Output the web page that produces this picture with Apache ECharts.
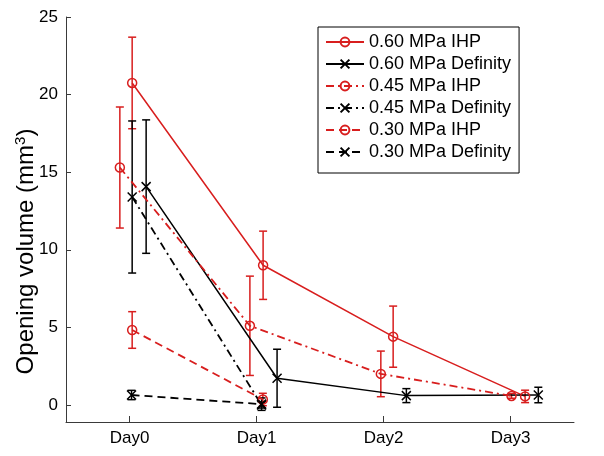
<!DOCTYPE html>
<html><head><meta charset="utf-8">
<script src="https://cdn.jsdelivr.net/npm/echarts@6/dist/echarts.min.js"></script>
<style>html,body{margin:0;padding:0;background:#fff}#c{width:604px;height:456px}</style>
</head><body><div id="c"></div>
<script>
// tick labels
const dayLabels = ['Day0', 'Day1', 'Day2', 'Day3'];
const dayTicks = [0, 1, 2, 3];
const yTicks = [0, 5, 10, 15, 20, 25];
const seriesNames = ['0.60 MPa IHP', '0.60 MPa Definity', '0.45 MPa IHP', '0.45 MPa Definity', '0.30 MPa IHP', '0.30 MPa Definity'];

// x positions (day index with small jitter as in the figure), means, error half-widths
const ihp060X = [0.021, 1.052, 2.076, 3.115];
const ihp060Y = [20.75, 9.0, 4.4, 0.55];
const ihp060E = [2.95, 2.2, 1.97, 0.4];

const def060X = [0.131, 1.162, 2.18, 3.219];
const def060Y = [14.07, 1.72, 0.6, 0.64];
const def060E = [4.3, 1.87, 0.45, 0.5];

const ihp045X = [-0.076, 0.948, 1.979, 3.008];
const ihp045Y = [15.3, 5.1, 2.0, 0.58];
const ihp045E = [3.9, 3.2, 1.47, 0.15];

const def045X = [0.021, 1.04];
const def045Y = [13.4, 0.0];
const def045E = [4.9, 0.2];

const ihp030X = [0.021, 1.05];
const ihp030Y = [4.83, 0.35];
const ihp030E = [1.18, 0.4];

const def030X = [0.016, 1.04];
const def030Y = [0.64, 0.05];
const def030E = [0.3, 0.4];

const RED = '#d81e1e';
const BLACK = '#000000';
const FONT = 'Liberation Sans, Arial, sans-serif';
const CROSS = 'path://M0,0L10,10M0,10L10,0';

const defs = [
  {name: seriesNames[0], xs: ihp060X, ys: ihp060Y, es: ihp060E, color: RED, dash: 'solid', sym: 'circle'},
  {name: seriesNames[1], xs: def060X, ys: def060Y, es: def060E, color: BLACK, dash: 'solid', sym: CROSS},
  {name: seriesNames[2], xs: ihp045X, ys: ihp045Y, es: ihp045E, color: RED, dash: [8, 4, 2, 4], sym: 'circle'},
  {name: seriesNames[3], xs: def045X, ys: def045Y, es: def045E, color: BLACK, dash: [8, 4, 2, 4], sym: CROSS},
  {name: seriesNames[4], xs: ihp030X, ys: ihp030Y, es: ihp030E, color: RED, dash: [8, 5], sym: 'circle'},
  {name: seriesNames[5], xs: def030X, ys: def030Y, es: def030E, color: BLACK, dash: [8, 5], sym: CROSS}
];

function errRender(color) {
  return function (params, api) {
    const x = api.value(0), lo = api.value(1), hi = api.value(2);
    const a = api.coord([x, hi]);
    const b = api.coord([x, lo]);
    const w = 4;
    const st = {stroke: color, lineWidth: 1.5};
    return {type: 'group', children: [
      {type: 'line', shape: {x1: a[0], y1: a[1], x2: b[0], y2: b[1]}, style: st},
      {type: 'line', shape: {x1: a[0] - w, y1: a[1], x2: a[0] + w, y2: a[1]}, style: st},
      {type: 'line', shape: {x1: b[0] - w, y1: b[1], x2: b[0] + w, y2: b[1]}, style: st}
    ]};
  };
}

const series = [];
defs.forEach((d, i) => {
  series.push({
    name: 'err' + i,
    type: 'custom',
    renderItem: errRender(d.color),
    encode: {x: 0, y: [1, 2]},
    data: d.xs.map((x, k) => [x, d.ys[k] - d.es[k], d.ys[k] + d.es[k]]),
    z: 2,
    silent: true
  });
});
defs.forEach((d) => {
  series.push({
    name: d.name,
    type: 'line',
    data: d.xs.map((x, k) => [x, d.ys[k]]),
    symbol: d.sym,
    symbolSize: 9,
    showSymbol: true,
    lineStyle: {color: d.color, width: d.dash === 'solid' ? 1.5 : 1.8, type: d.dash},
    itemStyle: {color: 'transparent', borderColor: d.color, borderWidth: 1.5},
    z: 3
  });
});

const chart = echarts.init(document.getElementById('c'), null, {renderer: 'canvas'});
chart.setOption({
  animation: false,
  backgroundColor: '#fff',
  grid: {left: 66, right: 30, top: 17, bottom: 34, containLabel: false, outerBoundsMode: 'none'},
  xAxis: {
    type: 'value', min: -0.5, max: 3.5,
    splitLine: {show: false},
    axisLine: {show: true, onZero: false, lineStyle: {color: '#3a3a3a', width: 1}},
    axisTick: {show: true, inside: true, length: 6, customValues: dayTicks, lineStyle: {color: '#3a3a3a'}},
    axisLabel: {customValues: dayTicks, formatter: v => dayLabels[Math.round(v)], fontSize: 17, fontFamily: FONT, color: '#000', margin: 8}
  },
  yAxis: {
    type: 'value', min: -1.1, max: 25,
    splitLine: {show: false},
    axisLine: {show: true, onZero: false, lineStyle: {color: '#3a3a3a', width: 1}},
    axisTick: {show: true, inside: true, length: 5, customValues: yTicks, lineStyle: {color: '#3a3a3a'}},
    axisLabel: {customValues: yTicks, fontSize: 17, fontFamily: FONT, color: '#000', margin: 8},
    name: 'Opening volume (mm{sup|3})',
    nameLocation: 'middle', nameRotate: 90, nameGap: 26, nameMoveOverlap: false,
    nameTextStyle: {fontSize: 24, fontFamily: FONT, color: '#000', padding: [0, 64, 0, 0],
      rich: {sup: {fontSize: 15, fontFamily: FONT, color: '#000', verticalAlign: 'top', padding: [0, 0, 12, 0]}}}
  },
  legend: {
    data: seriesNames,
    orient: 'vertical',
    left: 318, top: 27,
    itemWidth: 38, itemHeight: 11, itemGap: 4,
    padding: [6, 8, 12, 7],
    borderColor: '#000', borderWidth: 1, borderRadius: 0,
    backgroundColor: '#fff',
    textStyle: {fontSize: 18, fontFamily: FONT, color: '#000', lineHeight: 18, padding: [0, 0, 0, 0]},
    selectedMode: false
  },
  series: series
});
</script></body></html>
